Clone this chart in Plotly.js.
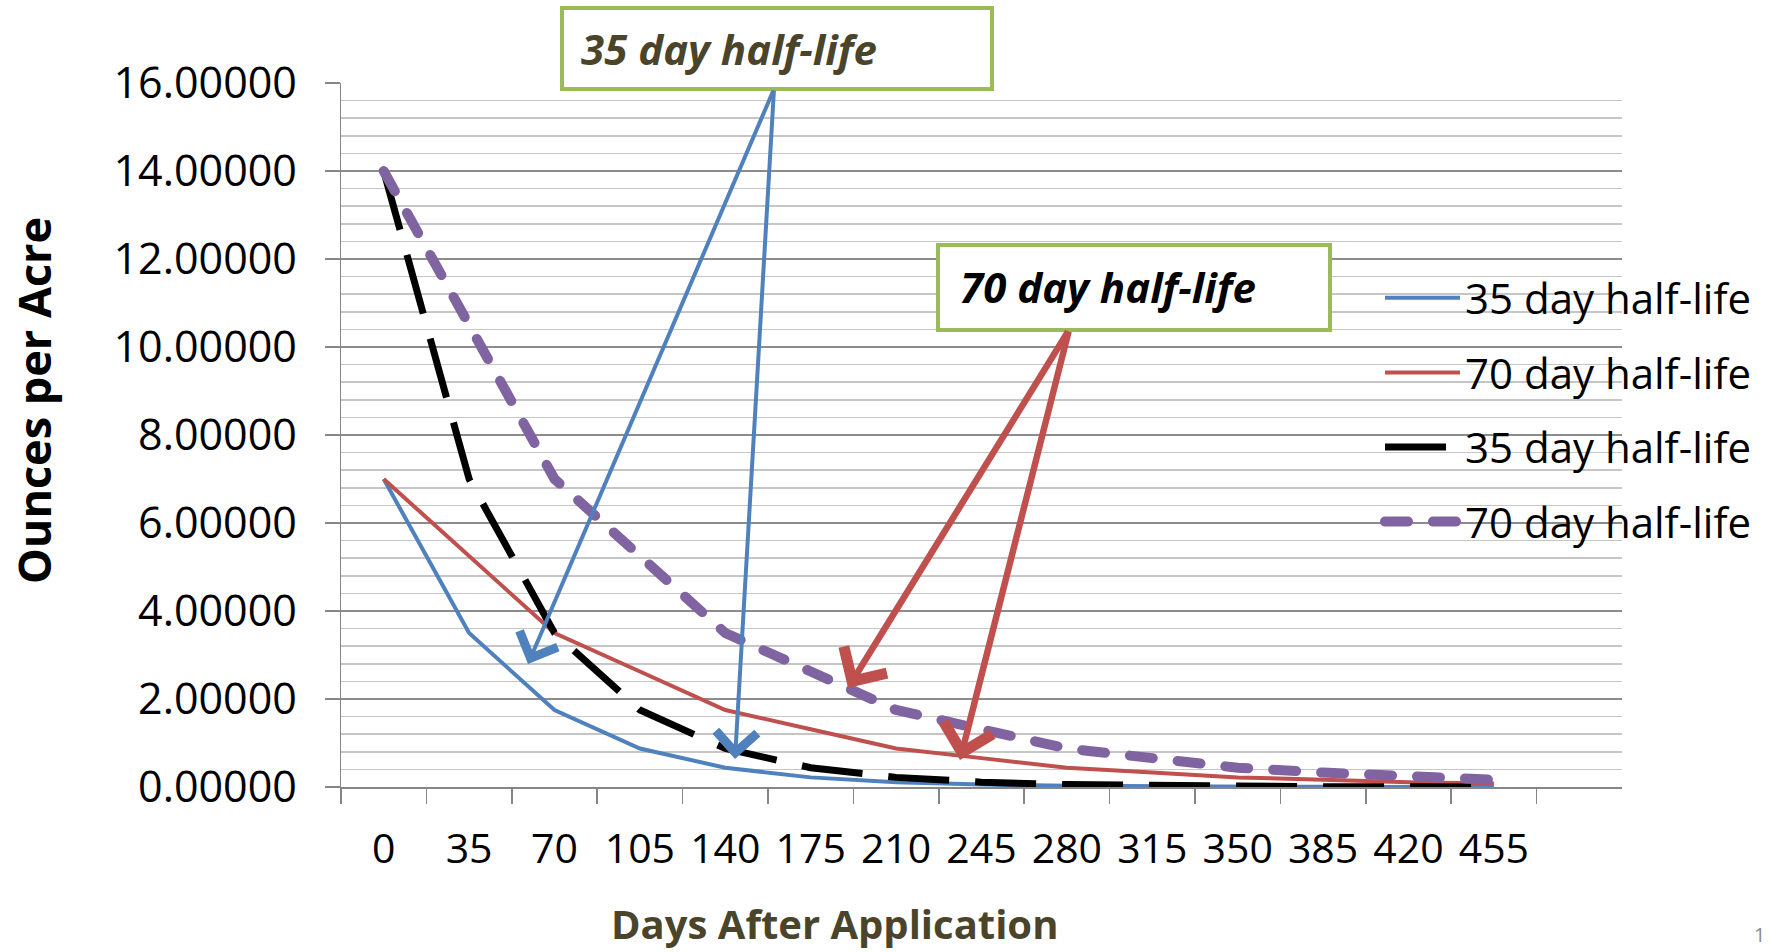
<!DOCTYPE html>
<html>
<head>
<meta charset="utf-8">
<script src="https://cdn.plot.ly/plotly-3.0.1.min.js"></script>
<style>
  html, body { margin: 0; padding: 0; background: #ffffff; }
  #chart { width: 1769px; height: 952px; }
</style>
</head>
<body>
<div id="chart"></div>
<script>
// ---- data ----
const days = ['0', '35', '70', '105', '140', '175', '210', '245', '280', '315', '350', '385', '420', '455'];
const seriesNames = ['35 day half-life', '70 day half-life', '35 day half-life', '70 day half-life'];
const low35 = [7, 3.5, 1.75, 0.875, 0.4375, 0.21875, 0.109375, 0.0546875, 0.02734, 0.01367, 0.00684, 0.00342, 0.00171, 0.00085];
const low70 = [7, 5.25, 3.5, 2.625, 1.75, 1.3125, 0.875, 0.65625, 0.4375, 0.328125, 0.21875, 0.1640625, 0.109375, 0.08203];
const high35 = [14, 7, 3.5, 1.75, 0.875, 0.4375, 0.21875, 0.109375, 0.0546875, 0.02734, 0.01367, 0.00684, 0.00342, 0.00171];
const high70 = [14, 10.5, 7, 5.25, 3.5, 2.625, 1.75, 1.3125, 0.875, 0.65625, 0.4375, 0.328125, 0.21875, 0.1640625];
const boxLabels = ['35 day half-life', '70 day half-life'];
const xTitle = 'Days After Application';
const yTitle = 'Ounces per Acre';
const pageNumber = '1';

// ---- pixel helpers for the plot frame ----
const W = 1769, H = 952;
const L = 341, R = 1622, T = 83, B = 787;
const px = v => (v - L) / (R - L);
const py = v => (B - v) / (B - T);

const FONT = 'Open Sans, Noto Sans, sans-serif';
const blue = '#4f81bd', red = '#c0504d', purple = '#8064a2', green = '#9bbb59', olive = '#4a452a';

const traces = [
  { x: days, y: low35, name: seriesNames[0], legendgroup: 'a', mode: 'lines', line: { color: blue, width: 4 } },
  { x: days, y: low70, name: seriesNames[1], legendgroup: 'b', mode: 'lines', line: { color: red, width: 4 } },
  { x: days, y: high35, name: seriesNames[2], legendgroup: 'c', mode: 'lines', line: { color: '#000000', width: 7, dash: '61px,26px' } },
  { x: days, y: high70, name: seriesNames[3], legendgroup: 'd', mode: 'lines', line: { color: purple, width: 10, dash: '23px,25px' } }
];

function arrow(tailX, tailY, tipX, tipY, color, width, size) {
  return {
    xref: 'paper', yref: 'paper', x: px(tipX), y: py(tipY),
    axref: 'pixel', ayref: 'pixel', ax: tailX - tipX, ay: tailY - tipY,
    text: '', showarrow: true, arrowhead: 4, arrowsize: size,
    arrowwidth: width, arrowcolor: color, standoff: 0
  };
}

const layout = {
  width: W, height: H,
  margin: { l: L, r: W - R, t: T, b: H - B },
  paper_bgcolor: '#ffffff', plot_bgcolor: '#ffffff',
  font: { family: FONT, color: '#000000' },
  showlegend: true,
  legend: {
    x: px(1380), xanchor: 'left', y: py(264), yanchor: 'top',
    bgcolor: 'rgba(0,0,0,0)', borderwidth: 0,
    font: { family: FONT, size: 42, color: '#000000' },
    itemwidth: 75, traceorder: 'grouped', tracegroupgap: 17
  },
  xaxis: {
    type: 'category', categoryorder: 'array', categoryarray: days,
    range: [-0.5, 14.5], tickson: 'boundaries',
    ticks: 'outside', ticklen: 15, tickwidth: 1.5, tickcolor: '#868686',
    showgrid: false, zeroline: false,
    showline: true, linecolor: '#868686', linewidth: 1.5,
    tickfont: { family: FONT, size: 41, color: '#000000' },
    ticklabelstandoff: 25, fixedrange: true
  },
  yaxis: {
    range: [0, 16], dtick: 2, tick0: 0, tickformat: '.5f',
    ticks: 'outside', ticklen: 15, tickwidth: 1.5, tickcolor: '#868686',
    showline: true, linecolor: '#868686', linewidth: 1.5,
    showgrid: true, gridcolor: '#8c8c8c', gridwidth: 1.5, zeroline: false,
    minor: { dtick: 0.4, showgrid: true, gridcolor: '#c6c6c6', gridwidth: 1.5, ticks: '' },
    tickfont: { family: FONT, size: 43, color: '#000000' },
    ticklabelstandoff: 19, fixedrange: true
  },
  shapes: [
    { type: 'rect', xref: 'paper', yref: 'paper', layer: 'above',
      x0: px(562), x1: px(992), y0: py(89), y1: py(8),
      line: { color: green, width: 4 }, fillcolor: '#ffffff' },
    { type: 'rect', xref: 'paper', yref: 'paper', layer: 'above',
      x0: px(938), x1: px(1330), y0: py(330), y1: py(245),
      line: { color: green, width: 4 }, fillcolor: '#ffffff' }
  ],
  annotations: [
    { xref: 'paper', yref: 'paper', x: px(579), y: py(49), xanchor: 'left', yanchor: 'middle',
      text: boxLabels[0], showarrow: false,
      font: { family: FONT, size: 42, color: olive, weight: 'bold', style: 'italic' } },
    { xref: 'paper', yref: 'paper', x: px(958), y: py(286), xanchor: 'left', yanchor: 'middle',
      text: boxLabels[1], showarrow: false,
      font: { family: FONT, size: 42, color: '#000000', weight: 'bold', style: 'italic' } },
    arrow(774, 89, 528, 664, blue, 4, 2.0),
    arrow(774, 89, 735, 759, blue, 4, 2.0),
    arrow(1069, 330, 848, 688, red, 6.5, 1.5),
    arrow(1069, 330, 960, 760, red, 6.5, 1.5),
    { xref: 'paper', yref: 'paper', x: px(834), y: py(923), xanchor: 'center', yanchor: 'middle',
      text: xTitle, showarrow: false,
      font: { family: FONT, size: 40, color: olive, weight: 'bold' } },
    { xref: 'paper', yref: 'paper', x: px(33), y: py(401), xanchor: 'center', yanchor: 'middle',
      text: yTitle, showarrow: false, textangle: -90,
      font: { family: FONT, size: 45, color: '#000000', weight: 'bold' } },
    { xref: 'paper', yref: 'paper', x: px(1767), y: py(950), xanchor: 'right', yanchor: 'bottom',
      text: pageNumber, showarrow: false,
      font: { family: FONT, size: 20, color: '#8c8c8c' } }
  ]
};

function roundPurpleCaps() {
  const tr = document.querySelectorAll('.scatterlayer .trace');
  if (tr[3]) tr[3].querySelectorAll('path.js-line').forEach(p => { p.style.strokeLinecap = 'round'; p.setAttribute('stroke-linecap', 'round'); });
  const lg = document.querySelectorAll('.legend .traces');
  if (lg[3]) lg[3].querySelectorAll('path.js-line').forEach(p => { p.style.strokeLinecap = 'round'; p.setAttribute('stroke-linecap', 'round'); });
}

Plotly.newPlot('chart', traces, layout, { displayModeBar: false, staticPlot: true }).then(roundPurpleCaps);
</script>
</body>
</html>
